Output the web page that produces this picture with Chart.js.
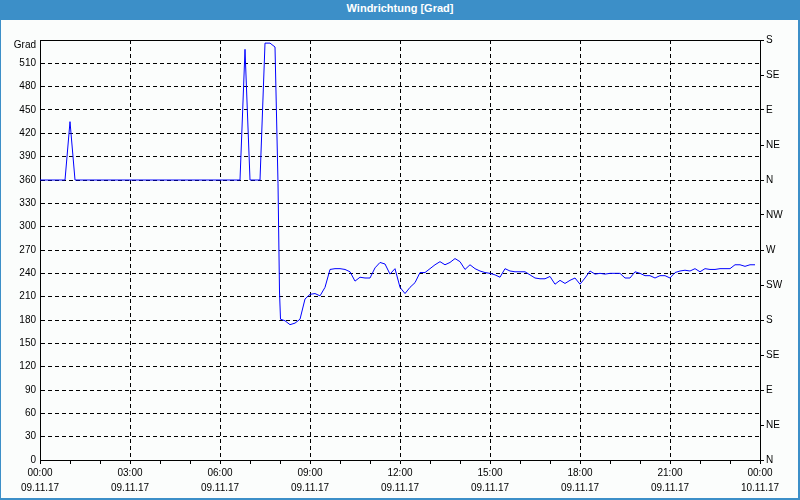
<!DOCTYPE html>
<html>
<head>
<meta charset="utf-8">
<script src="https://cdn.jsdelivr.net/npm/chart.js@4/dist/chart.umd.min.js"></script>
<style>
html,body{margin:0;padding:0;}
body{width:800px;height:500px;overflow:hidden;background:#fbfdfc;position:relative;}
#titlebar{position:absolute;left:0;top:0;width:800px;height:20px;background:#3c8fc8;color:#fff;
  font-family:"Liberation Sans",Arial,sans-serif;font-size:11px;font-weight:bold;
  line-height:17px;text-align:center;}
#frame{position:absolute;left:0;top:20px;width:800px;height:480px;box-sizing:border-box;
  border-left:1px solid #3c8fc8;border-right:2px solid #3c8fc8;border-bottom:2px solid #3c8fc8;}
#wrap{position:absolute;left:0;top:20px;width:800px;height:480px;}
</style>
</head>
<body>
<div id="titlebar">Windrichtung [Grad]</div>
<div id="frame"></div>
<div id="wrap"><canvas id="c" width="800" height="480"></canvas></div>
<script>
// time of day in minutes since 09.11.17 00:00
const minutes = [0,50,60,70,400,410,420,440,450,460,470,476,479,481,
  490,500,510,520,530,540,550,560,570,580,590,600,610,620,630,640,650,660,670,680,690,
  700,710,720,730,740,750,760,770,780,790,800,810,820,830,840,850,860,870,880,890,
  900,910,920,930,940,950,960,970,980,990,1000,1010,1020,1030,1040,1050,1060,1070,1080,1090,
  1100,1110,1120,1130,1140,1150,1160,1170,1180,1190,1200,1210,1220,1230,1240,1250,1260,1270,1280,1290,
  1300,1310,1320,1330,1340,1350,1360,1370,1380,1390,1400,1410,1420,1430];
// wind direction [Grad]
const grad = [360,360,435,360,360,528,360,360,536,536,531,356,216,181,
  179,174,176,181,207,213,214,211,222,245,246,246,245,242,230,235,234,234,247,254,252,
  239,246,222,214,222,228,241,241,246,251,255,251,254,259,255,245,251,246,243,241,
  240,238,235,246,243,242,242,242,238,234,233,233,236,226,231,227,231,234,226,234,
  243,239,240,239,240,240,240,234,234,242,240,237,237,234,237,237,234,241,243,244,
  243,246,242,246,245,245,246,246,246,251,251,249,251,251];
const hourLabels = ['00:00','03:00','06:00','09:00','12:00','15:00','18:00','21:00','00:00'];
const dateLabels = ['09.11.17','09.11.17','09.11.17','09.11.17','09.11.17','09.11.17','09.11.17','09.11.17','10.11.17'];
const directionLabels = ['N','NE','E','SE','S','SW','W','NW','N','NE','E','SE','S'];
const unitLabel = 'Grad';

const FONT = {family:'"Liberation Sans", Arial, sans-serif', size:10};

const frameAndUnit = {
  id:'frameAndUnit',
  afterDraw(chart){
    const {ctx, chartArea:a} = chart;
    ctx.save();
    ctx.strokeStyle = '#000';
    ctx.lineWidth = 1;
    ctx.setLineDash([]);
    ctx.beginPath();
    ctx.moveTo(a.left, Math.round(a.top) + 0.5);
    ctx.lineTo(a.right + 1, Math.round(a.top) + 0.5);
    ctx.stroke();
    // unit label above the left axis
    ctx.fillStyle = '#000';
    ctx.font = '10px "Liberation Sans", Arial, sans-serif';
    ctx.textAlign = 'right';
    ctx.textBaseline = 'middle';
    ctx.fillText(unitLabel, a.left - 4, a.top + 5);
    ctx.restore();
  }
};

new Chart(document.getElementById('c'), {
  type:'line',
  data:{
    datasets:[{
      data: minutes.map((m,i)=>({x:m, y:grad[i]})),
      borderColor:'#0000ff',
      borderWidth:1,
      pointRadius:0,
      tension:0,
      fill:false,
      yAxisID:'y',
      xAxisID:'x'
    }]
  },
  options:{
    responsive:false,
    animation:false,
    devicePixelRatio:1,
    layout:{padding:{top:20,left:0,right:0,bottom:0}},
    plugins:{legend:{display:false}, tooltip:{enabled:false}, title:{display:false}},
    scales:{
      x:{
        type:'linear', position:'bottom', min:0, max:1440,
        ticks:{
          stepSize:60, autoSkip:false, maxRotation:0, minRotation:0,
          color:'#000', font:{family:FONT.family, size:10, lineHeight:1.5}, padding:2,
          callback:(v)=> (v % 180 === 0) ? [hourLabels[v/180], dateLabels[v/180]] : ''
        },
        grid:{
          color:(ctx)=> (ctx.tick && ctx.tick.value % 180 === 0 && ctx.tick.value > 0 && ctx.tick.value < 1440) ? '#000' : 'rgba(0,0,0,0)',
          tickColor:'#000', tickLength:4, lineWidth:1
        },
        border:{display:true, color:'#000', width:1, dash:[4,3]},
        afterFit:(s)=>{ s.height = 40; }
      },
      y:{
        type:'linear', position:'left', min:0, max:540,
        ticks:{
          stepSize:30, color:'#000', font:FONT, padding:4,
          callback:(v)=> v === 540 ? '' : String(v)
        },
        grid:{
          color:(ctx)=> (ctx.tick && ctx.tick.value > 0 && ctx.tick.value < 540) ? '#000' : 'rgba(0,0,0,0)',
          drawTicks:false, lineWidth:1
        },
        border:{display:true, color:'#000', width:1, dash:[4,3]},
        afterFit:(s)=>{ s.width = 40; }
      },
      y2:{
        type:'linear', position:'right', min:0, max:540, display:true,
        ticks:{
          stepSize:45, color:'#000', font:FONT, padding:2,
          callback:(v)=> directionLabels[Math.round(v/45)]
        },
        grid:{drawOnChartArea:false, color:'#000', tickColor:'#000', tickLength:4},
        border:{display:true, color:'#000', width:1},
        afterFit:(s)=>{ s.width = 40; }
      }
    }
  },
  plugins:[frameAndUnit]
});
</script>
</body>
</html>
